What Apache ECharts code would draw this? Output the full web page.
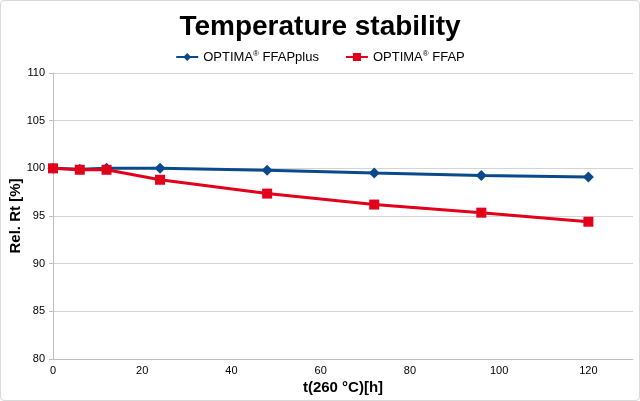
<!DOCTYPE html>
<html><head><meta charset="utf-8">
<script src="https://cdn.jsdelivr.net/npm/echarts@6/dist/echarts.min.js"></script>
<style>html,body{margin:0;padding:0;background:#fff}#c{width:640px;height:401px;box-sizing:border-box;border:1px solid #d9d9d9;border-radius:4px}</style>
</head><body><div id="c"></div>
<script>
const hours = [0, 6, 12, 24, 48, 72, 96, 120];
const ffapPlus = [100, 99.9, 100.0, 100.0, 99.8, 99.5, 99.25, 99.1];
const ffap = [100, 99.85, 99.85, 98.8, 97.35, 96.2, 95.35, 94.4];
const seriesNames = ['OPTIMA\u00AE FFAPplus', 'OPTIMA\u00AE FFAP'];
const chart = echarts.init(document.getElementById('c'));
const font = 'Liberation Sans, Arial, Helvetica, sans-serif';
chart.setOption({
  animation: false,
  textStyle: {fontFamily: font},
  title: {text: 'Temperature stability', left: 'center', top: 7,
    textStyle: {fontFamily: font, fontSize: 28, fontWeight: 'bold', color: '#000'}},
  legend: {top: 44, left: 'center', itemGap: 26, itemWidth: 22, itemHeight: 10,
    formatter: function (n) {
      const p = n.split('\u00AE');
      return p[0] + '{r|\u00AE}' + p[1];
    },
    textStyle: {fontFamily: font, fontSize: 13, color: '#000',
      rich: {r: {fontSize: 8, verticalAlign: 'top', color: '#000', padding: [0, 0, 6, 0]}}},
    data: seriesNames},
  grid: {left: 52, right: 6, top: 72, bottom: 41, outerBoundsMode: 'none', containLabel: false},
  xAxis: {type: 'value', min: 0, max: 130, interval: 20,
    name: 't(260 °C)[h]', nameLocation: 'middle', nameGap: 21, nameMoveOverlap: false,
    nameTextStyle: {fontFamily: font, fontSize: 15, fontWeight: 'bold', color: '#000'},
    axisLine: {show: true, lineStyle: {color: '#bfbfbf'}},
    axisTick: {show: false},
    splitLine: {show: false},
    axisLabel: {color: '#000', fontSize: 11, margin: 6, showMaxLabel: false}},
  yAxis: {type: 'value', min: 80, max: 110, interval: 5,
    name: 'Rel. Rt [%]', nameLocation: 'middle', nameGap: 30, nameRotate: 90, nameMoveOverlap: false,
    nameTextStyle: {fontFamily: font, fontSize: 15, fontWeight: 'bold', color: '#000'},
    axisLine: {show: true, lineStyle: {color: '#bfbfbf'}},
    axisTick: {show: true, length: 4, lineStyle: {color: '#bfbfbf'}},
    splitLine: {show: true, lineStyle: {color: '#d4d4d4'}},
    axisLabel: {color: '#000', fontSize: 11, margin: 8}},
  series: [
    {name: seriesNames[0], type: 'line', data: hours.map((h, i) => [h, ffapPlus[i]]),
      symbol: 'diamond', symbolSize: 11, z: 2,
      lineStyle: {color: '#0a4a8c', width: 3}, itemStyle: {color: '#0a4a8c'}},
    {name: seriesNames[1], type: 'line', data: hours.map((h, i) => [h, ffap[i]]),
      symbol: 'rect', symbolSize: 10, z: 3,
      lineStyle: {color: '#e2001a', width: 3}, itemStyle: {color: '#e2001a'}}
  ]
});
</script></body></html>
